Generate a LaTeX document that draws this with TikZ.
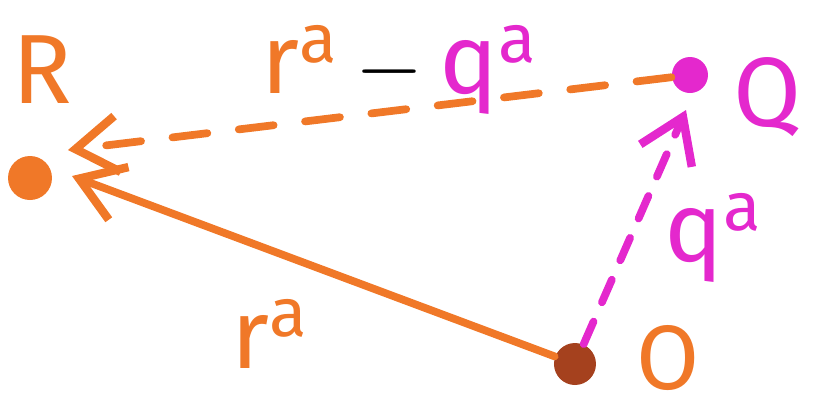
\documentclass[tikz,border=0pt]{standalone}
\usepackage{fontspec}
\setsansfont{Fira Sans}
\usetikzlibrary{arrows.meta, positioning}
\definecolor{orgC}{RGB}{240,120, 40}
\definecolor{magC}{RGB}{228, 40,205}
\definecolor{brnC}{RGB}{165, 65, 30}
\tikzset{
  pt/.style   = {circle, inner sep=0pt, minimum size=0.42cm},
  vec/.style  = {-{Straight Barb[length=12pt, width=16pt, line width=2.4pt]},
                 line width=2.2pt, line cap=round},
  dsh/.style  = {vec, dash pattern=on 10pt off 9pt},
  lbl/.style  = {font=\sffamily\fontsize{28}{30}\selectfont},
}

\begin{document}
\begin{tikzpicture}

% ---- Frame ------------------------------------------------------------------
\useasboundingbox (0,0) rectangle (8.3,4.12);

% ---- Points -----------------------------------------------------------------
\node[pt, fill=orgC, minimum size=0.44cm] (R) at (0.30, 2.34) {};
\node[pt, fill=magC, minimum size=0.36cm] (Q) at (6.90, 3.37) {};
\node[pt, fill=brnC] (O) at (5.75, 0.48) {};

\node[lbl, color=orgC] (Rlbl) at (0.42, 3.42) {R};
\node[lbl, color=magC] (Qlbl) at (7.68, 3.15) {Q};
\node[lbl, color=orgC, inner sep=0pt, font=\sffamily\fontsize{26}{28}\selectfont]
  (Olbl) at (6.68, 0.54) {O};

% ---- Vectors ----------------------------------------------------------------
\coordinate (Rtop) at (0.68, 2.62);
\coordinate (Rbot) at (0.72, 2.36);
\coordinate (Qbot) at (6.86, 3.02);

\draw[dsh, color=orgC] (Q) -- (Rtop);
\draw[vec, color=orgC] (O) -- (Rbot);
\draw[dsh, color=magC, dash pattern=on 7pt off 6pt] (O) -- (Qbot);

% ---- Labels -----------------------------------------------------------------
\node[lbl, color=magC] (qa) at (7.14, 1.74) {q$^{\mathsf{a}}$};
\node[lbl, color=orgC] (ra) at (2.70, 0.78) {r$^{\mathsf{a}}$};
\node[lbl] (diff) at (4.00, 3.42)
  {\textcolor{orgC}{r$^{\mathsf{a}}$}\,$-$\,\textcolor{magC}{q$^{\mathsf{a}}$}};

\end{tikzpicture}
\end{document}
